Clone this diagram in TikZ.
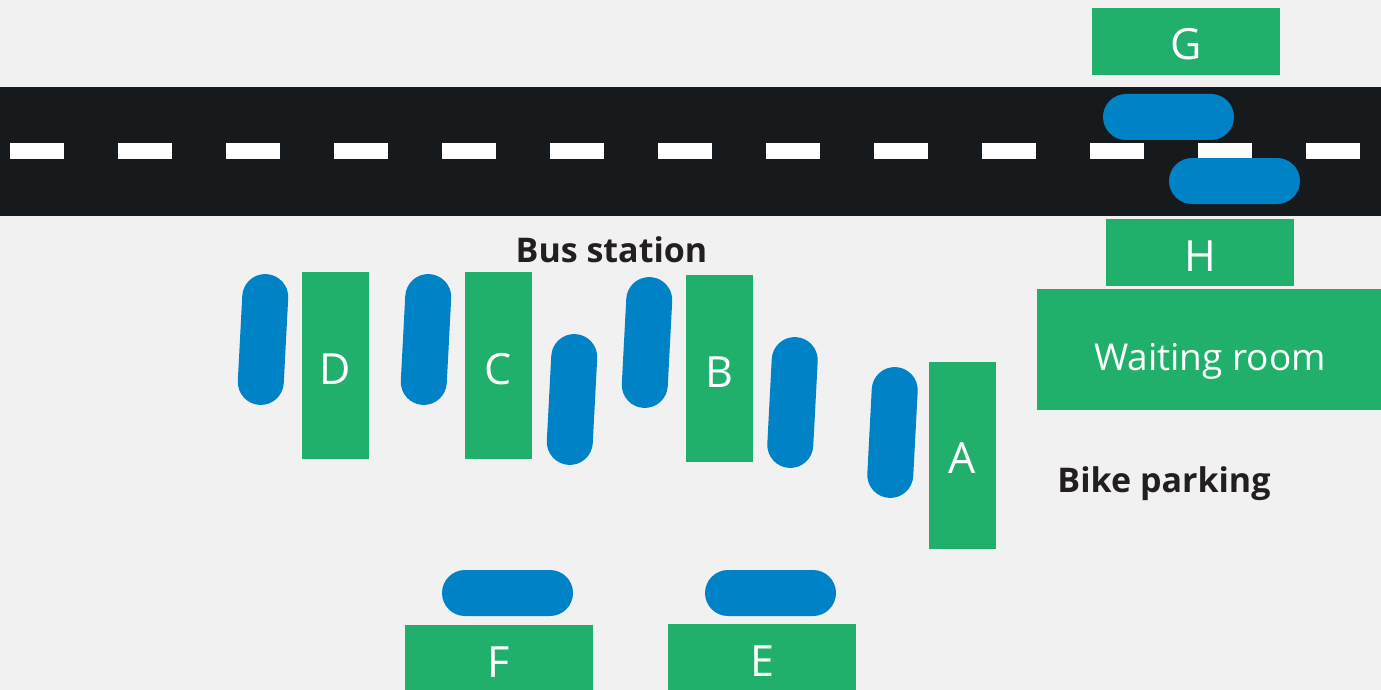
\documentclass[tikz,border=0pt]{standalone}
\usepackage{fontspec}
\setmainfont{Open Sans}
\definecolor{roadfg}{HTML}{171A1D}
\definecolor{bayfg}{HTML}{21B06B}
\definecolor{busfg}{HTML}{0082C6}
\definecolor{groundfg}{HTML}{F1F1F1}
\definecolor{labelfg}{HTML}{231F20}

\begin{document}
\begin{tikzpicture}[x=1pt, y=-1pt,
		bay/.style={fill=bayfg, text=white, inner sep=0pt, text height=37pt, text depth=0pt, font=\fontsize{43}{43}\selectfont},
		vbay/.style={bay, minimum width=67pt, minimum height=187pt},
		hbay/.style={bay, minimum width=188pt, minimum height=67pt},
		bus/.style={fill=busfg, rounded corners=23pt, inner sep=0pt, minimum width=131pt, minimum height=46pt},
		vbus/.style={bus, minimum width=46pt, minimum height=131pt, rotate=-3},
		place/.style={text=labelfg, font=\fontsize{34}{34}\selectfont\bfseries, anchor=base}]
		\fill[groundfg] (0,0) rectangle (1381,690);
		\useasboundingbox (0,0) rectangle (1381,690);
		% road
		\fill[roadfg] (0,87) rectangle (1381,216);
		\foreach \i in {0,...,12}
			\fill[white] (10+108*\i,143) rectangle ++(54,16);
		% bays beside the road
		\node[hbay] (bayG) at (1186,41.5) {G};
		\node[hbay] (bayH) at (1200,252.5) {H};
		\node[bus] (busG) at (1168.5,117) {};
		\node[bus] (busH) at (1234.5,181) {};
		% station bays
		\node[vbay] (bayD) at (335.5,365.5) {D};
		\node[vbay] (bayC) at (498.5,365.5) {C};
		\node[vbay] (bayB) at (719.5,368.5) {B};
		\node[vbay] (bayA) at (962.5,455) {A};
		\node[vbus] (busD) at (263,339.5) {};
		\node[vbus] (busC1) at (426,339.5) {};
		\node[vbus] (busC2) at (572,399.5) {};
		\node[vbus] (busB1) at (647,342.5) {};
		\node[vbus] (busB2) at (792.5,402.5) {};
		\node[vbus] (busA) at (892.5,432.5) {};
		\node[hbay] (bayF) at (499,658.5) {F};
		\node[hbay] (bayE) at (762,657.5) {E};
		\node[bus] (busF) at (507.5,593) {};
		\node[bus] (busE) at (770.5,593) {};
		% buildings and labels
		\node[bay, minimum width=346pt, minimum height=121pt, text height=41pt, font=\fontsize{37}{37}\selectfont] (waiting) at (1210,349.5) {Waiting room};
		\node[place] (station) at (611.5,262) {Bus station};
		\node[place] (bikes) at (1164,492) {Bike parking};
	\end{tikzpicture}
\end{document}
